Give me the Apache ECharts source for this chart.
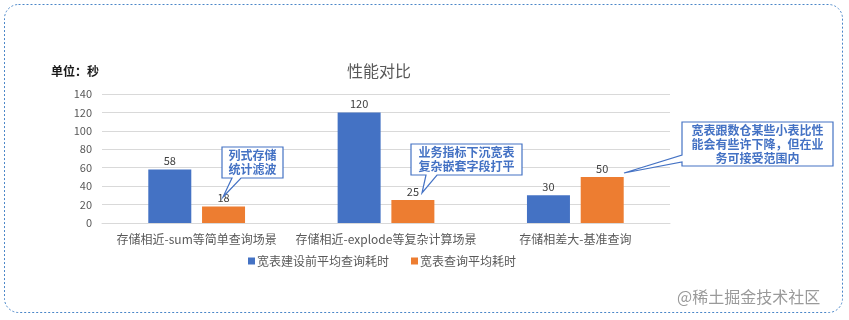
<!DOCTYPE html>
<html><head><meta charset="utf-8">
<script src="https://cdn.jsdelivr.net/npm/echarts@6/dist/echarts.min.js"></script>
<style>html,body{margin:0;padding:0;background:#fff}#c{width:849px;height:320px}</style>
</head><body><div id="c"></div>
<script>
const categories = ['存储相近-sum等简单查询场景', '存储相近-explode等复杂计算场景', '存储相差大-基准查询'];
const seriesNames = ['宽表建设前平均查询耗时', '宽表查询平均耗时'];
const beforeValues = [58, 120, 30];
const afterValues = [18, 25, 50];
const yTicks = { min: 0, max: 140, interval: 20 };
const callouts = [
  { text: '列式存储\n统计滤波', pts: [[222,147],[283,147],[283,178],[241,178],[223,197],[232,178],[222,178]], box: [222,147,61,31] },
  { text: '业务指标下沉宽表\n复杂嵌套字段打平', pts: [[411,144],[522,144],[522,175],[437,175],[422,193],[426,175],[411,175]], box: [411,144,111,31] },
  { text: '宽表跟数仓某些小表比性\n能会有些许下降，但在业\n务可接受范围内', pts: [[682,122],[833,122],[833,166],[682,166],[682,162],[624,173],[682,155]], box: [682,122,151,44] }
];
const FONT = '"Microsoft YaHei","Noto Sans CJK SC",sans-serif';
const chart = echarts.init(document.getElementById('c'), null, { renderer: 'canvas' });
const graphics = [
  { type: 'rect', shape: { x: 4.5, y: 4.5, width: 838, height: 308, r: 14 }, style: { fill: 'none', stroke: '#4a86c8', lineWidth: 1, lineDash: [2, 2] }, z: 100 },
  { type: 'text', left: 677, top: 289, style: { text: '@稀土掘金技术社区', fill: '#9a9a9a', font: '16px ' + FONT }, z: 100 }
];
callouts.forEach(c => {
  graphics.push({ type: 'polygon', shape: { points: c.pts }, style: { fill: '#fff', stroke: '#4472c4', lineWidth: 1.2 }, z: 50 });
  graphics.push({ type: 'text', x: c.box[0] + c.box[2] / 2, y: c.box[1] + c.box[3] / 2,
    style: { text: c.text, fill: '#4472c4', font: 'bold 12px ' + FONT, align: 'center', verticalAlign: 'middle', lineHeight: 14 }, z: 51 });
});
chart.setOption({
  animation: false,
  textStyle: { fontFamily: FONT },
  title: [
    { text: '性能对比', left: 342, top: 58, textStyle: { fontSize: 16, fontWeight: 'normal', color: '#595959', fontFamily: FONT } },
    { text: '单位：秒', left: 46, top: 60, textStyle: { fontSize: 12, fontWeight: 'bold', color: '#1a1a1a', fontFamily: FONT } }
  ],
  legend: {
    data: seriesNames, left: 243, top: 250, icon: 'rect', itemWidth: 7, itemHeight: 7, itemGap: 22,
    textStyle: { color: '#595959', fontSize: 12, fontFamily: FONT, padding: [0, 0, 0, -3] }
  },
  grid: { left: 102, right: 179, top: 94, bottom: 97, containLabel: false },
  xAxis: {
    type: 'category', data: categories,
    axisLine: { lineStyle: { color: '#d9d9d9' } }, axisTick: { show: false },
    axisLabel: { color: '#595959', fontSize: 12, margin: 10, interval: 0 }
  },
  yAxis: {
    type: 'value', min: yTicks.min, max: yTicks.max, interval: yTicks.interval,
    axisLine: { show: false }, axisTick: { show: false },
    axisLabel: { color: '#595959', fontSize: 11, margin: 10 },
    splitLine: { lineStyle: { color: '#d9d9d9' } }
  },
  series: [
    { name: seriesNames[0], type: 'bar', data: beforeValues, barWidth: 43, barGap: '25%', itemStyle: { color: '#4472c4' },
      label: { show: true, position: 'top', color: '#404040', fontSize: 11, distance: 3 } },
    { name: seriesNames[1], type: 'bar', data: afterValues, barWidth: 43, barGap: '25%', itemStyle: { color: '#ed7d31' },
      label: { show: true, position: 'top', color: '#404040', fontSize: 11, distance: 3 } }
  ],
  graphic: graphics
});
</script></body></html>
